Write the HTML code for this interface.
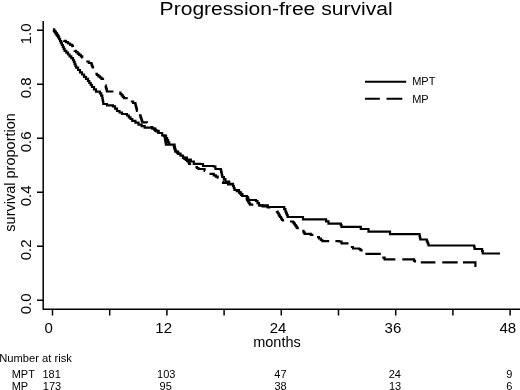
<!DOCTYPE html>
<html><head><meta charset="utf-8">
<style>
html,body{margin:0;padding:0;background:#fff;}
body{width:520px;height:390px;overflow:hidden;}
svg{display:block;filter:grayscale(1) blur(0.3px);}
text{font-family:"Liberation Sans",sans-serif;fill:#000;}
</style></head><body>
<svg width="520" height="390" viewBox="0 0 520 390">
<rect width="520" height="390" fill="#fff"/>
<text id="title" x="159.6" y="15" font-size="18.8" textLength="233" lengthAdjust="spacingAndGlyphs">Progression-free survival</text>
<!-- axes -->
<g stroke="#000" stroke-width="1.5" fill="none">
<path d="M43.2 21V309.2H520"/>
<path d="M37 30.2H43.2M37 84.2H43.2M37 138.2H43.2M37 192.3H43.2M37 246.3H43.2M37 300.3H43.2"/>
<path d="M52.5 309V315.5M109.7 309V315.5M166.9 309V315.5M224.1 309V315.5M281.3 309V315.5M338.5 309V315.5M395.7 309V315.5M452.9 309V315.5M510.1 309V315.5"/>
</g>
<!-- y labels -->
<g font-size="15" text-anchor="middle">
<text transform="translate(30.7,33.8) rotate(-90)">1.0</text>
<text transform="translate(30.7,87.8) rotate(-90)">0.8</text>
<text transform="translate(30.7,141.8) rotate(-90)">0.6</text>
<text transform="translate(30.7,195.9) rotate(-90)">0.4</text>
<text transform="translate(30.7,249.9) rotate(-90)">0.2</text>
<text transform="translate(30.7,303.9) rotate(-90)">0.0</text>
<text transform="translate(14.8,172.4) rotate(-90)" font-size="14.5">survival proportion</text>
</g>
<g font-size="15" text-anchor="middle">
<text x="48.7" y="333">0</text>
<text x="163.7" y="333">12</text>
<text x="278" y="333">24</text>
<text x="392.9" y="333">36</text>
<text x="507.8" y="333">48</text>
<text x="277" y="346.6" font-size="14.5">months</text>
</g>
<g font-size="11">
<text x="-0.8" y="361.6" font-size="11.2">Number at risk</text>
<text x="11.7" y="378.2">MPT</text>
<text x="11.7" y="390.4">MP</text>
<text x="42.5" y="378.2">181</text>
<text x="42.8" y="390.4">173</text>
<g text-anchor="middle">
<text x="166.3" y="378.2">103</text><text x="165.7" y="390.4">95</text>
<text x="280.4" y="378.2">47</text><text x="280.6" y="390.4">38</text>
<text x="394.8" y="378.2">24</text><text x="395" y="390.4">13</text>
<text x="509.2" y="378.2">9</text><text x="509.2" y="390.4">6</text>
</g>
</g>
<!-- legend -->
<g stroke="#000" stroke-width="2" fill="none">
<path d="M365 81.7H406.2"/>
<path d="M365 98.7H379.8M386.5 98.7H402.3"/>
</g>
<g font-size="11">
<text x="412.2" y="84.6">MPT</text>
<text x="412.2" y="103">MP</text>
</g>
<!-- curves -->
<g stroke="#000" stroke-width="2.2" fill="none" stroke-linejoin="miter">
<path id="mpt" d="M53.0 29.5 L54.2 29.5 L54.2 31.4 L55.5 31.4 L55.5 33.4 L56.7 33.4 L56.7 35.3 L58.0 35.3 L58.0 37.3 L59.2 37.3 L59.2 39.2 L60.1 39.2 L60.1 41.1 L61.0 41.1 L61.0 43.1 L61.9 43.1 L61.9 45.0 L62.8 45.0 L62.8 46.9 L63.7 46.9 L63.7 48.9 L64.6 48.9 L64.6 50.8 L66.3 50.8 L66.3 52.6 L68.0 52.6 L68.0 54.5 L69.6 54.5 L69.6 56.3 L71.3 56.3 L71.3 58.2 L73.0 58.2 L73.0 60.0 L73.8 60.0 L73.8 61.9 L74.6 61.9 L74.6 63.9 L75.4 63.9 L75.4 65.8 L76.2 65.8 L76.2 67.7 L78.1 67.7 L78.1 70.0 L80.0 70.0 L80.0 72.3 L82.0 72.3 L82.0 74.5 L84.0 74.5 L84.0 76.8 L86.0 76.8 L86.0 78.9 L88.0 78.9 L88.0 81.0 L89.3 81.0 L89.3 83.0 L90.7 83.0 L90.7 85.0 L92.0 85.0 L92.0 87.0 L94.0 87.0 L94.0 89.3 L96.0 89.3 L96.0 91.7 L100.0 91.7 L100.0 93.3 L101.2 93.3 L101.2 95.7 L102.3 95.7 L102.3 98.0 L102.6 98.0 L102.6 100.0 L103.0 100.0 L103.0 102.0 L103.3 102.0 L103.3 104.0 L107.0 104.0 L107.0 105.3 L113.0 105.3 L113.0 106.3 L115.0 106.3 L115.0 108.7 L117.0 108.7 L117.0 111.0 L119.5 111.0 L119.5 112.5 L122.0 112.5 L122.0 114.0 L127.0 114.0 L127.0 115.5 L128.8 115.5 L128.8 117.3 L130.5 117.3 L130.5 119.0 L132.3 119.0 L132.3 120.8 L135.4 120.8 L135.4 122.7 L138.5 122.7 L138.5 124.6 L141.6 124.6 L141.6 126.2 L144.6 126.2 L144.6 127.7 L152.3 127.7 L152.3 128.5 L155.4 128.5 L155.4 130.8 L158.5 130.8 L158.5 133.0 L162.2 133.0 L162.2 135.5 L166.0 135.5 L166.0 138.0 L167.1 138.0 L167.1 140.2 L168.1 140.2 L168.1 142.4 L169.2 142.4 L169.2 144.6 L174.6 144.6 L174.6 147.0 L175.0 147.0 L175.0 149.2 L175.4 149.2 L175.4 151.5 L177.9 151.5 L177.9 153.6 L180.5 153.6 L180.5 155.6 L183.0 155.6 L183.0 157.7 L186.9 157.7 L186.9 159.6 L190.8 159.6 L190.8 161.5 L193.8 161.5 L193.8 163.8 L200.0 163.8 L200.0 164.0 L203.0 164.0 L203.0 166.0 L213.8 166.0 L213.8 166.5 L215.4 166.5 L215.4 169.0 L220.8 169.0 L220.8 170.0 L221.2 170.0 L221.2 171.8 L221.6 171.8 L221.6 173.5 L221.9 173.5 L221.9 175.2 L222.3 175.2 L222.3 177.0 L223.9 177.0 L223.9 179.2 L225.4 179.2 L225.4 181.5 L229.2 181.5 L229.2 183.8 L233.0 183.8 L233.0 186.0 L233.8 186.0 L233.8 188.0 L234.6 188.0 L234.6 190.0 L239.0 190.0 L239.0 192.3 L240.7 192.3 L240.7 194.2 L242.3 194.2 L242.3 196.0 L247.0 196.0 L247.0 197.0 L247.8 197.0 L247.8 198.5 L248.5 198.5 L248.5 200.0 L256.0 200.0 L256.0 201.0 L257.5 201.0 L257.5 203.2 L259.0 203.2 L259.0 205.4 L267.7 205.4 L267.7 207.0 L283.0 207.0 L284.2 207.0 L284.2 209.2 L285.4 209.2 L285.4 211.5 L286.2 211.5 L286.2 213.3 L286.9 213.3 L286.9 215.2 L287.7 215.2 L287.7 217.0 L302.3 217.0 L303.0 217.0 L303.0 219.3 L323.8 219.3 L326.1 219.3 L326.1 221.4 L328.5 221.4 L328.5 223.6 L340.0 223.6 L340.8 223.6 L340.8 225.2 L341.5 225.2 L341.5 226.8 L359.2 226.8 L360.8 226.8 L360.8 229.0 L367.0 229.0 L368.5 229.0 L368.5 231.6 L388.5 231.6 L390.0 231.6 L390.0 234.2 L419.2 234.2 L419.6 234.2 L419.6 236.0 L419.9 236.0 L419.9 237.7 L420.3 237.7 L420.3 239.5 L426.0 239.5 L426.8 239.5 L426.8 241.5 L427.7 241.5 L427.7 243.5 L428.5 243.5 L428.5 245.5 L473.8 245.5 L474.2 245.5 L474.2 247.2 L474.6 247.2 L474.6 249.0 L481.5 249.0 L482.1 249.0 L482.1 251.2 L482.8 251.2 L482.8 253.5 L500.0 253.5"/>
<path id="mp" d="M53.0 29.5 L53.9 29.5 L53.9 30.8 L54.8 30.8 L54.8 32.0 L55.8 32.0 L55.8 33.2 L56.7 33.2 L56.7 34.5 L57.6 34.5 L57.6 35.8 L58.5 35.8 L58.5 37.0 L60.0 37.0M63.8 40.5 L63.8 40.8 L65.9 40.8 L65.9 42.1 L68.0 42.1 L68.0 43.5 L70.2 43.5 L70.2 44.9 L72.3 44.9 L72.3 46.2 L72.9 46.2 L72.9 47.0M74.6 50.5 L74.6 50.8 L76.1 50.8 L76.1 52.2 L77.7 52.2 L77.7 53.6 L79.2 53.6 L79.2 54.9 L80.8 54.9 L80.8 56.3 L82.3 56.3 L82.3 57.7 L82.5 57.7M86.2 61.5 L88.8 61.5 L88.8 63.0 L91.5 63.0 L91.5 64.6 L92.0 64.6 L92.0 65.9 L92.5 65.9 L92.5 67.2 L93.0 67.2 L93.0 68.5M95.4 73.8 L96.9 73.8 L96.9 75.0 L98.4 75.0 L98.4 76.3 L100.0 76.3 L100.0 77.5 L101.5 77.5 L101.5 78.8 L103.0 78.8 L103.0 80.0M105.4 85.4 L105.7 85.4 L105.7 86.6 L106.0 86.6 L106.0 87.8 L106.4 87.8 L106.4 89.1 L106.7 89.1 L106.7 90.3 L107.0 90.3 L107.0 91.5 L112.3 91.5 L112.3 92.6M119.2 92.6 L120.4 92.6 L120.4 94.0 L121.6 94.0 L121.6 95.4 L122.8 95.4 L122.8 96.8 L124.0 96.8 L124.0 98.2 L127.7 98.2M130.8 101.5 L133.1 101.5 L133.1 103.0 L135.4 103.0 L135.4 104.6 L135.7 104.6 L135.7 105.8 L136.0 105.8 L136.0 107.1 L136.4 107.1 L136.4 108.3 L136.7 108.3 L136.7 109.6 L137.0 109.6 L137.0 110.8 L137.7 110.8M140.0 114.3 L140.0 115.4 L140.5 115.4 L140.5 116.8 L140.9 116.8 L140.9 118.2 L141.4 118.2 L141.4 119.5 L141.8 119.5 L141.8 120.9 L142.3 120.9 L142.3 122.3 L147.0 122.3 L147.0 123.0M151.0 126.5 L151.0 127.1 L152.3 127.1 L152.3 128.5 L154.4 128.5 L154.4 130.0 L156.4 130.0 L156.4 131.5 L158.5 131.5 L158.5 133.0 L159.1 133.0M162.8 135.7 L164.6 135.7 L164.6 137.0 L164.8 137.0 L164.8 138.3 L165.1 138.3 L165.1 139.5 L165.3 139.5 L165.3 140.8 L165.5 140.8 L165.5 142.1 L165.8 142.1 L165.8 143.3 L166.0 143.3 L166.0 144.6 L168.4 144.6M173.8 145.6 L173.8 146.5 L174.2 146.5 L174.2 147.8 L174.6 147.8 L174.6 149.0 L175.0 149.0 L175.0 150.2 L175.4 150.2 L175.4 151.5 L176.9 151.5 L176.9 152.7 L178.4 152.7 L178.4 154.0 L180.0 154.0 L180.0 154.1M183.0 157.4 L183.0 157.7 L184.4 157.7 L184.4 158.8 L185.8 158.8 L185.8 160.0 L187.1 160.0 L187.1 161.2 L188.5 161.2 L188.5 162.3 L189.2 162.3 L189.2 163.9 L190.0 163.9 L190.0 165.0M195.4 167.0 L196.9 167.0 L196.9 168.0 L198.5 168.0 L198.5 169.0 L204.6 169.0 L204.6 170.8 L205.0 170.8M209.5 173.8 L213.8 173.8 L213.8 175.4 L215.8 175.4 L215.8 176.6 L217.7 176.6 L217.7 177.7 L218.5 177.7M222.5 181.7 L223.0 181.7 L223.0 183.0 L228.0 183.0 L228.0 184.5 L233.0 184.5 L233.0 184.8M234.6 189.6 L234.6 190.0 L236.8 190.0 L236.8 191.2 L239.0 191.2 L239.0 192.3 L240.1 192.3 L240.1 193.5 L241.2 193.5 L241.2 194.8 L242.3 194.8 L242.3 195.6M245.6 198.7 L247.0 198.7 L247.0 200.0 L247.8 200.0 L247.8 201.2 L248.5 201.2 L248.5 202.3 L249.2 202.3 L249.2 203.4 L250.0 203.4 L250.0 204.6 L253.3 204.6M258.9 205.4 L262.7 205.4 L262.7 206.4 L267.7 206.4 L267.7 207.5 L270.5 207.5M276.9 211.0 L276.9 211.7 L277.7 211.7 L277.7 213.0 L278.5 213.0 L278.5 214.3 L279.2 214.3 L279.2 215.7 L280.0 215.7 L280.0 217.0 L281.0 217.0 L281.0 218.5 L282.0 218.5 L282.0 220.0 L283.0 220.0 L283.0 221.5M290.0 221.5 L293.0 221.5 L293.0 222.3 L293.9 222.3 L293.9 223.7 L294.9 223.7 L294.9 225.1 L295.8 225.1 L295.8 226.4 L296.8 226.4 L296.8 227.8 L297.7 227.8 L297.7 229.2M302.3 230.8 L303.5 230.8 L303.5 232.3 L304.6 232.3 L304.6 233.8 L309.2 233.8 L310.8 233.8 L310.8 234.9 L312.3 234.9 L312.3 236.0M317.0 237.0 L318.9 237.0 L318.9 238.5 L320.8 238.5 L320.8 240.0 L322.3 240.0 L322.3 241.2 L329.2 241.2M335.4 241.2 L339.2 241.2 L339.2 241.5 L341.5 241.5 L341.5 243.4 L348.5 243.4M350.8 247.0 L353.0 247.0 L353.0 248.5 L359.2 248.5 L359.2 249.0 L360.4 249.0 L360.4 250.2 L361.5 250.2 L361.5 251.5M365.4 253.8 L380.8 253.8M382.3 257.7 L384.6 257.7 L384.6 259.3 L395.4 259.3M402.3 259.3 L413.0 259.3 L414.0 259.3 L414.0 260.9 L415.0 260.9 L415.0 262.4M420.8 262.4 L435.4 262.4M442.3 262.4 L457.7 262.4M463.0 262.4 L475.4 262.4 L475.4 267.0"/>
</g>
</svg>
</body></html>
